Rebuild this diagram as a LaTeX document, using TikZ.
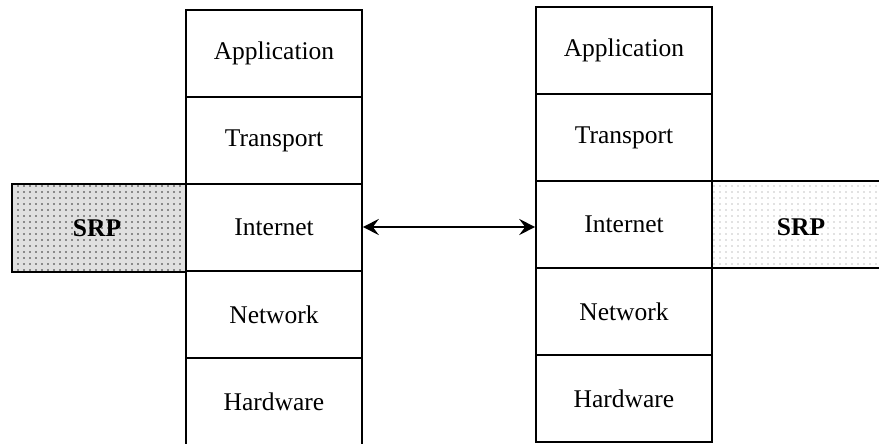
\documentclass[tikz,border=0pt]{standalone}
\usepackage{fontspec}
\setmainfont{Liberation Serif}
\usetikzlibrary{arrows.meta,patterns.meta}
\begin{document}
\begin{tikzpicture}[x=1pt,y=-1pt,
  cell/.style={draw=black,line width=1.6pt,minimum width=176pt,minimum height=87pt,inner sep=0pt,
    font=\fontsize{25.5}{30}\selectfont},
  srpbox/.style={inner sep=0pt,font=\fontsize{25.5}{30}\selectfont\bfseries},
  tipend/.tip={Stealth[length=16pt,width=16pt,inset=6pt]}]
\useasboundingbox (0,0) rectangle (879,444);
% left SRP
\fill[black!12] (12,184) rectangle (186,272);
\fill[pattern={Dots[distance=6pt,radius=0.9pt]},pattern color=black!80] (12,184) rectangle (186,272);
\draw[line width=1.6pt] (186,184) -- (12,184) -- (12,272) -- (186,272);
\node[srpbox] (srpL) at (97,228) {SRP};
% right SRP
\fill[pattern={Dots[distance=6pt,radius=0.6pt]},pattern color=black!50] (712,181) rectangle (879,268);
\draw[line width=1.6pt] (712,181) -- (879,181);
\draw[line width=1.6pt] (712,268) -- (879,268);
\node[srpbox] (srpR) at (801,227) {SRP};
% left stack
\node[cell] (appL) at (274,53.5) {Application};
\node[cell] (traL) at (274,140.5) {Transport};
\node[cell] (intL) at (274,227.5) {Internet};
\node[cell] (netL) at (274,314.5) {Network};
\node[cell] (hwL)  at (274,401.5) {Hardware};
% right stack
\node[cell] (appR) at (624,50.5) {Application};
\node[cell] (traR) at (624,137.5) {Transport};
\node[cell] (intR) at (624,224.5) {Internet};
\node[cell] (netR) at (624,311.5) {Network};
\node[cell] (hwR)  at (624,398.5) {Hardware};
% arrow
\draw[line width=2.6pt,tipend-tipend]
  (intL.east |- 0,227) -- (intR.west |- 0,227);
\end{tikzpicture}
\end{document}
